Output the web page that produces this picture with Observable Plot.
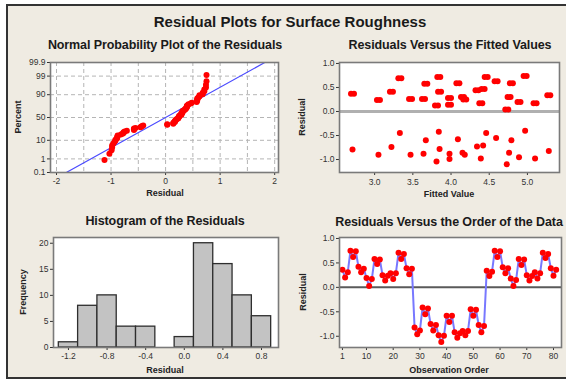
<!DOCTYPE html>
<html><head><meta charset="utf-8">
<script src="https://cdn.jsdelivr.net/npm/d3@7"></script>
<script src="https://cdn.jsdelivr.net/npm/@observablehq/plot@0.6"></script>
<style>
html,body{margin:0;padding:0;background:#fff;}
#root{position:relative;width:566px;height:381px;overflow:hidden;background:#fff;font-family:"Liberation Sans",Arial,sans-serif;}
#bg{position:absolute;left:6px;top:4px;width:580px;height:371px;background:#efebe2;border:2px solid #333;}
.t{position:absolute;white-space:nowrap;font-weight:bold;color:#1a1a1a;transform:translate(-50%,-50%);line-height:1;}
.main{font-size:15px;}
.pt{font-size:12.5px;letter-spacing:-0.1px;}
.al{font-size:9px;color:#222;}
.rot{transform:translate(-50%,-50%) rotate(-90deg);}
.p{position:absolute;}
</style></head>
<body>
<div id="root">
  <div id="bg"></div>
  <div class="t main" style="left:290px;top:21px">Residual Plots for Surface Roughness</div>
  <div class="t pt" style="left:165px;top:45px">Normal Probability Plot of the Residuals</div>
  <div class="t pt" style="left:450px;top:45px">Residuals Versus the Fitted Values</div>
  <div class="t pt" style="left:165px;top:221px">Histogram of the Residuals</div>
  <div class="t pt" style="left:449px;top:222px">Residuals Versus the Order of the Data</div>
  <div class="t al" style="left:165px;top:193px">Residual</div>
  <div class="t al" style="left:449px;top:194px">Fitted Value</div>
  <div class="t al" style="left:165px;top:370px">Residual</div>
  <div class="t al" style="left:449px;top:370px">Observation Order</div>
  <div class="t al rot" style="left:18px;top:117px">Percent</div>
  <div class="t al rot" style="left:302px;top:117px">Residual</div>
  <div class="t al rot" style="left:23px;top:292px">Frequency</div>
  <div class="t al rot" style="left:303px;top:292px">Residual</div>
  <div class="p" id="p1" style="left:0px;top:55px"></div>
  <div class="p" id="p2" style="left:290px;top:55px"></div>
  <div class="p" id="p3" style="left:0px;top:230px"></div>
  <div class="p" id="p4" style="left:290px;top:230px"></div>
</div>
<script>
// Residuals in observation order (1..81)
const residuals = [
  0.36,0.20,0.31,0.75,0.62,0.74,0.42,0.31,0.38,0.19,0.03,0.17,0.58,0.48,0.57,0.25,0.14,0.24,0.29,0.17,0.29,0.71,0.58,0.68,0.39,0.27,0.38,
  -0.82,-0.96,-0.88,-0.41,-0.55,-0.43,-0.75,-0.88,-0.77,-0.98,-1.12,-0.99,-0.58,-0.71,-0.58,-0.92,-1.03,-0.94,-0.89,-0.98,-0.89,-0.45,-0.58,-0.46,-0.77,-0.92,-0.79,
  0.34,0.23,0.32,0.75,0.62,0.74,0.41,0.29,0.39,0.18,0.03,0.15,0.58,0.46,0.57,0.25,0.14,0.23,0.31,0.18,0.29,0.71,0.60,0.68,0.39,0.24,0.36
];
const obsTicks = [1,10,20,30,40,50,60,70,80];

// Residuals versus fitted values
const fittedValues = [2.71,3.05,3.22,3.33,3.47,3.64,3.67,3.81,3.84,3.85,3.98,3.98,4.09,4.15,4.18,4.34,4.39,4.42,4.46,4.59,4.73,4.76,4.79,4.89,4.97,5.10,5.28];
const fittedResidHigh = [0.37,0.24,0.41,0.69,0.26,0.26,0.58,0.125,0.72,0.41,0.28,0.14,0.59,0.30,0.25,0.44,0.17,0.47,0.72,0.63,0.04,0.30,0.59,0.20,0.74,0.17,0.34];
const fittedResidLow = [-0.79,-0.90,-0.74,-0.45,-0.90,-0.88,-0.60,-1.04,-0.42,-0.78,-0.88,-0.99,-0.58,-0.86,-0.90,-0.73,-0.98,-0.71,-0.45,-0.55,-1.10,-0.86,-0.60,-0.95,-0.40,-0.98,-0.82];
const fittedTicks = [3.0,3.5,4.0,4.5,5.0];
const residTicks = [-1.0,-0.5,0.0,0.5,1.0];

// Histogram
const binCenters = [-1.2,-1.0,-0.8,-0.6,-0.4,-0.2,0.0,0.2,0.4,0.6,0.8];
const binCounts = [1,8,10,4,4,0,2,20,16,10,6];
const histXTicks = [-1.2,-0.8,-0.4,0.0,0.4,0.8];
const freqTicks = [0,5,10,15,20];

// Normal probability plot
const probPercentTicks = [0.1,1,10,50,90,99,99.9];
const probXTicks = [-2,-1,0,1,2];
const probXGrid = [-2,-1.5,-1,-0.5,0,0.5,1,1.5,2];

function qnorm(p){
  const a=[-3.969683028665376e+01,2.209460984245205e+02,-2.759285104469687e+02,1.383577518672690e+02,-3.066479806614716e+01,2.506628277459239e+00];
  const b=[-5.447609879822406e+01,1.615858368580409e+02,-1.556989798598866e+02,6.680131188771972e+01,-1.328068155288572e+01];
  const c=[-7.784894002430293e-03,-3.223964580411365e-01,-2.400758277161838e+00,-2.549732539343734e+00,4.374664141464968e+00,2.938163982698783e+00];
  const d=[7.784695709041462e-03,3.224671290700398e-01,2.445134137142996e+00,3.754408661907416e+00];
  const pl=0.02425, ph=1-pl; let q,r;
  if(p<pl){q=Math.sqrt(-2*Math.log(p));return (((((c[0]*q+c[1])*q+c[2])*q+c[3])*q+c[4])*q+c[5])/((((d[0]*q+d[1])*q+d[2])*q+d[3])*q+1);}
  if(p>ph){q=Math.sqrt(-2*Math.log(1-p));return -(((((c[0]*q+c[1])*q+c[2])*q+c[3])*q+c[4])*q+c[5])/((((d[0]*q+d[1])*q+d[2])*q+d[3])*q+1);}
  q=p-0.5;r=q*q;return (((((a[0]*r+a[1])*r+a[2])*r+a[3])*r+a[4])*r+a[5])*q/(((((b[0]*r+b[1])*r+b[2])*r+b[3])*r+b[4])*r+1);
}

const FONT = "'Liberation Sans', Arial, sans-serif";
const style = {background:"transparent", fontSize:"8.5px", fontFamily:FONT, color:"#333", overflow:"visible"};
const f1 = d => d.toFixed(1);
const frameFill = Plot.frame({fill:"white"});
const frameStroke = Plot.frame({stroke:"#7a7a7a", strokeWidth:1.6});

// Panel 1: normal probability plot
const n = residuals.length;
const sorted = residuals.slice().sort(d3.ascending);
const probPts = sorted.map((r,i)=>({r, z:qnorm((i+1-0.3)/(n+0.4))}));
const mu = d3.mean(residuals), sd = d3.deviation(residuals);
const zLo = qnorm(0.001), zHi = qnorm(0.999);
const fitLine = [zLo, zHi].map(z=>({x:mu+sd*z, z}));
const probTickZ = probPercentTicks.map(p=>qnorm(p/100));
const zLabel = new Map(probTickZ.map((z,i)=>[z, String(probPercentTicks[i])]));

document.getElementById("p1").appendChild(Plot.plot({
  width:290, height:135, marginLeft:50, marginRight:12, marginTop:7, marginBottom:18,
  style,
  x:{domain:[-2.11,2.07], ticks:probXTicks, tickFormat:d=>String(d), tickSize:3, tickPadding:2, label:null},
  y:{domain:[zLo, zHi], ticks:probTickZ, tickFormat:z=>zLabel.get(z), tickSize:3, tickPadding:2, label:null},
  marks:[
    frameFill,
    Plot.ruleX(probXGrid, {stroke:"#b5b5b5", strokeDasharray:"4,3"}),
    Plot.ruleY(probTickZ, {stroke:"#b5b5b5", strokeDasharray:"4,3"}),
    Plot.line(fitLine, {x:"x", y:"z", stroke:"#4b4bff", strokeWidth:1.2, clip:true}),
    Plot.dot(probPts, {x:"r", y:"z", fill:"#ff0000", r:3}),
    frameStroke
  ]
}));

// Panel 2: residuals vs fitted
const fitHigh = fittedValues.map((f,i)=>({f, r:fittedResidHigh[i]}));
const fitLow = fittedValues.map((f,i)=>({f, r:fittedResidLow[i]}));
document.getElementById("p2").appendChild(Plot.plot({
  width:276, height:135, marginLeft:49, marginRight:7, marginTop:7, marginBottom:18,
  style,
  x:{domain:[2.54,5.42], ticks:fittedTicks, tickFormat:f1, tickSize:3, tickPadding:3, label:null},
  y:{domain:[-1.27,1.02], ticks:residTicks, tickFormat:f1, tickSize:3, tickPadding:2, label:null},
  marks:[
    frameFill,
    Plot.ruleY([0], {stroke:"#b0b0b0", strokeWidth:3}),
    Plot.dot(fitHigh, {x:"f", y:"r", fill:"#ff0000", r:3, dx:-1.5}),
    Plot.dot(fitHigh, {x:"f", y:"r", fill:"#ff0000", r:3, dx:1.5}),
    Plot.dot(fitLow, {x:"f", y:"r", fill:"#ff0000", r:3}),
    frameStroke
  ]
}));

// Panel 3: histogram
const binW = binCenters[1]-binCenters[0];
const hist = binCenters.map((c,i)=>({x1:c-binW/2, x2:c+binW/2, count:binCounts[i]})).filter(d=>d.count>0);
document.getElementById("p3").appendChild(Plot.plot({
  width:290, height:140, marginLeft:53, marginRight:12, marginTop:7, marginBottom:23,
  style,
  x:{domain:[-1.355,0.976], ticks:histXTicks, tickFormat:f1, tickSize:3, tickPadding:2, label:null},
  y:{domain:[0,21.1], ticks:freqTicks, tickFormat:d=>String(d), tickSize:3, tickPadding:2, label:null},
  marks:[
    frameFill,
    Plot.rect(hist, {x1:"x1", x2:"x2", y1:0, y2:"count", fill:"#c3c3c3", stroke:"#2e2e2e", strokeWidth:1.3}),
    frameStroke
  ]
}));

// Panel 4: residuals vs order
const order = residuals.map((r,i)=>({obs:i+1, r}));
document.getElementById("p4").appendChild(Plot.plot({
  width:276, height:140, marginLeft:49, marginRight:5, marginTop:7, marginBottom:23,
  style,
  x:{domain:[-0.1,83], ticks:obsTicks, tickFormat:d=>String(d), tickSize:3, tickPadding:2, label:null},
  y:{domain:[-1.23,1.02], ticks:residTicks, tickFormat:f1, tickSize:3, tickPadding:2, label:null},
  marks:[
    frameFill,
    Plot.ruleY([0], {stroke:"#5a5a5a", strokeWidth:2}),
    Plot.line(order, {x:"obs", y:"r", stroke:"#7878ff", strokeWidth:2}),
    Plot.dot(order, {x:"obs", y:"r", fill:"#ff0000", r:3}),
    frameStroke
  ]
}));
</script>
</body></html>
